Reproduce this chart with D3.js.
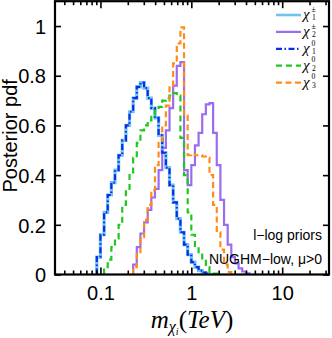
<!DOCTYPE html>
<html>
<head>
<meta charset="utf-8">
<script src="https://cdn.jsdelivr.net/npm/d3@7/dist/d3.min.js"></script>
<style>
body { margin: 0; background: #fff; }
</style>
</head>
<body>
<div id="chart"></div>
<script>
// histogram bin edges, log10(m / TeV)
var logEdges = [-1.08, -1.04, -1.00, -0.96, -0.92, -0.88, -0.84, -0.80, -0.76, -0.72,
  -0.68, -0.64, -0.60, -0.56, -0.52, -0.48, -0.44, -0.40, -0.36, -0.32,
  -0.28, -0.24, -0.20, -0.16, -0.12, -0.08, -0.04, 0.00, 0.04, 0.08,
  0.12, 0.16, 0.20, 0.24, 0.28, 0.32, 0.36, 0.40, 0.44, 0.48,
  0.52, 0.56, 0.60, 0.64, 0.68];

// posterior pdf in each bin
var chi1pm = [0, 0.07, 0.16, 0.25, 0.32, 0.37, 0.42, 0.48, 0.54, 0.60,
  0.655, 0.71, 0.755, 0.772, 0.75, 0.71, 0.67, 0.63, 0.56, 0.49,
  0.43, 0.36, 0.29, 0.225, 0.17, 0.12, 0.08, 0.05, 0.03, 0.016,
  0.008, 0.004, 0, 0, 0, 0, 0, 0, 0, 0, 0, 0, 0, 0];
var chi2pm = [0, 0, 0, 0, 0, 0, 0, 0, 0, 0,
  0, 0.04, 0.11, 0.165, 0.21, 0.26, 0.31, 0.345, 0.42, 0.51,
  0.58, 0.67, 0.76, 0.84, 0.855, 0.42, 0.36, 0.44, 0.52, 0.57,
  0.645, 0.685, 0.69, 0.57, 0.44, 0.30, 0.20, 0.12, 0.07, 0.045,
  0.025, 0.012, 0.005, 0];
var chi10 = [0, 0.07, 0.16, 0.25, 0.32, 0.37, 0.42, 0.48, 0.54, 0.60,
  0.655, 0.71, 0.755, 0.772, 0.75, 0.71, 0.67, 0.63, 0.56, 0.49,
  0.43, 0.36, 0.29, 0.225, 0.17, 0.12, 0.08, 0.05, 0.03, 0.016,
  0.008, 0.004, 0, 0, 0, 0, 0, 0, 0, 0, 0, 0, 0, 0];
var chi20 = [0, 0, 0, 0.02, 0.06, 0.11, 0.145, 0.20, 0.28, 0.34,
  0.40, 0.47, 0.53, 0.58, 0.60, 0.62, 0.64, 0.66, 0.675, 0.70,
  0.71, 0.72, 0.73, 0.72, 0.55, 0.40, 0.25, 0.16, 0.11, 0.08,
  0.055, 0.03, 0.012, 0.004, 0, 0, 0, 0, 0, 0, 0, 0, 0, 0];
var chi30 = [0, 0, 0, 0, 0, 0, 0, 0, 0, 0,
  0, 0.03, 0.09, 0.15, 0.22, 0.28, 0.34, 0.44, 0.53, 0.60,
  0.68, 0.76, 0.85, 0.93, 0.995, 0.64, 0.48, 0.485, 0.48, 0.48,
  0.475, 0.47, 0.40, 0.28, 0.17, 0.10, 0.04, 0.01, 0, 0,
  0, 0, 0, 0];

var xTickValues = [0.1, 1, 10];
var xTickLabels = ["0.1", "1", "10"];
var yTickValues = [0, 0.2, 0.4, 0.6, 0.8, 1];
var yTickLabels = ["0", "0.2", "0.4", "0.6", "0.8", "1"];

var series = [
  { name: "1", sup: "\u00b1", values: chi1pm, color: "#6ec3f2", width: 3.2, dash: null },
  { name: "2", sup: "\u00b1", values: chi2pm, color: "#9a6cf0", width: 2.2, dash: null },
  { name: "1", sup: "0", values: chi10, color: "#0a2ee8", width: 2.2, dash: "6,2.5,1.5,2.5" },
  { name: "2", sup: "0", values: chi20, color: "#1fc81f", width: 2.2, dash: "6,4" },
  { name: "3", sup: "0", values: chi30, color: "#ff8c1a", width: 2.2, dash: "6,3.5" }
];

var width = 332, height = 338;
var margin = { top: 1.2, right: 3, bottom: 63.5, left: 55 };
var chartWidth = width - margin.left - margin.right;
var chartHeight = height - margin.top - margin.bottom;

var svg = d3.select("#chart").append("svg")
    .attr("width", width)
    .attr("height", height);

var chartGroup = svg.append("g")
    .attr("transform", `translate(${margin.left}, ${margin.top})`);

var x = d3.scaleLog()
    .domain([Math.pow(10, -1.5), Math.pow(10, 1.515)])
    .range([0, chartWidth]);
var y = d3.scaleLinear()
    .domain([0, 1.1])
    .range([chartHeight, 0]);

var sans = "'Liberation Sans', Arial, Helvetica, sans-serif";
var serif = "'Liberation Serif', 'Times New Roman', serif";

// clip for histograms
svg.append("clipPath").attr("id", "clip")
  .append("rect").attr("width", chartWidth).attr("height", chartHeight);

var line = d3.line()
    .x(d => x(Math.pow(10, d[0])))
    .y(d => y(d[1]))
    .curve(d3.curveStepAfter);

var plot = chartGroup.append("g").attr("clip-path", "url(#clip)");

series.forEach(function(s) {
  var first = s.values.findIndex(v => v > 0);
  var last = s.values.length - 1;
  while (s.values[last] === 0) last--;
  var pts = [[logEdges[first], 0]];
  for (var i = first; i <= last; i++) pts.push([logEdges[i], s.values[i]]);
  pts.push([logEdges[last + 1], 0]);
  plot.append("path")
    .attr("d", line(pts))
    .attr("fill", "none")
    .attr("stroke", s.color)
    .attr("stroke-width", s.width)
    .attr("stroke-dasharray", s.dash);
});

// minor ticks for log axis
var minor = [];
[0.01, 0.1, 1, 10].forEach(function(dec) {
  for (var k = 2; k <= 9; k++) {
    var v = dec * k;
    if (v > x.domain()[0] && v < x.domain()[1]) minor.push(v);
  }
});

function tickStyle(g) {
  g.select(".domain").remove();
  g.selectAll("line").attr("stroke", "#000").attr("stroke-width", 1.6);
}

// bottom / top axes, ticks pointing in
chartGroup.append("g")
    .attr("transform", `translate(0, ${chartHeight})`)
    .call(d3.axisBottom(x).tickValues(minor).tickSize(-4).tickFormat(""))
    .call(tickStyle);
chartGroup.append("g")
    .attr("transform", `translate(0, ${chartHeight})`)
    .call(d3.axisBottom(x).tickValues(xTickValues).tickSize(-7)
      .tickFormat((d, i) => xTickLabels[i]).tickPadding(11))
    .call(tickStyle)
    .selectAll("text")
      .attr("font-family", sans).attr("font-size", 20).attr("fill", "#000");
chartGroup.append("g")
    .call(d3.axisTop(x).tickValues(minor).tickSize(-4).tickFormat(""))
    .call(tickStyle);
chartGroup.append("g")
    .call(d3.axisTop(x).tickValues(xTickValues).tickSize(-7).tickFormat(""))
    .call(tickStyle);

// left / right axes
chartGroup.append("g")
    .call(d3.axisLeft(y).tickValues(yTickValues).tickSize(-6)
      .tickFormat((d, i) => yTickLabels[i]).tickPadding(9))
    .call(tickStyle)
    .selectAll("text")
      .attr("font-family", sans).attr("font-size", 20).attr("fill", "#000")
      .attr("dy", "0.36em");
chartGroup.append("g")
    .attr("transform", `translate(${chartWidth}, 0)`)
    .call(d3.axisRight(y).tickValues(yTickValues).tickSize(-6).tickFormat(""))
    .call(tickStyle);

// frame
chartGroup.append("rect")
    .attr("width", chartWidth).attr("height", chartHeight)
    .attr("fill", "none").attr("stroke", "#000").attr("stroke-width", 2.2);

// y label
svg.append("text")
    .attr("transform", `translate(16.5, ${margin.top + chartHeight / 2 - 2}) rotate(-90)`)
    .attr("text-anchor", "middle")
    .attr("font-family", sans).attr("font-size", 20)
    .text("Posterior pdf");

// x label: m_{chi_i}(TeV)
var xl = svg.append("text")
    .attr("x", 192).attr("y", 328)
    .attr("text-anchor", "middle")
    .attr("font-family", serif).attr("font-style", "italic").attr("font-size", 25);
xl.append("tspan").text("m");
xl.append("tspan").attr("font-size", 16).attr("dy", 4).text("\u03c7");
xl.append("tspan").attr("font-size", 10).attr("dy", 2.5).text("i");
xl.append("tspan").attr("dy", -6.5).attr("font-style", "normal").text("(");
xl.append("tspan").text("TeV");
xl.append("tspan").attr("font-style", "normal").text(")");

// legend
var legend = svg.append("g");
series.forEach(function(s, i) {
  var ly = 15 + i * 16.9;
  legend.append("line")
    .attr("x1", 276).attr("x2", 301)
    .attr("y1", ly).attr("y2", ly)
    .attr("stroke", s.color)
    .attr("stroke-width", s.width > 3 ? 2.6 : 2.2)
    .attr("stroke-dasharray", s.dash);
  var lt = legend.append("text")
    .attr("x", 303).attr("y", ly + 4)
    .attr("font-family", serif).attr("font-size", 15);
  lt.append("tspan").attr("font-style", "italic").text("\u03c7");
  lt.append("tspan").attr("x", 311.5).attr("y", ly - 3.3)
    .attr("font-size", 7.6).text(s.sup);
  lt.append("tspan").attr("x", 312).attr("y", ly + 5.3)
    .attr("font-size", 7.6).text(s.name);
});

// annotations
svg.append("text")
    .attr("x", 322).attr("y", 240)
    .attr("text-anchor", "end")
    .attr("font-family", sans).attr("font-size", 14)
    .text("l\u2212log priors");
svg.append("text")
    .attr("x", 322).attr("y", 264)
    .attr("text-anchor", "end")
    .attr("font-family", sans).attr("font-size", 14)
    .text("NUGHM\u2212low, \u03bc>0");
</script>
</body>
</html>
